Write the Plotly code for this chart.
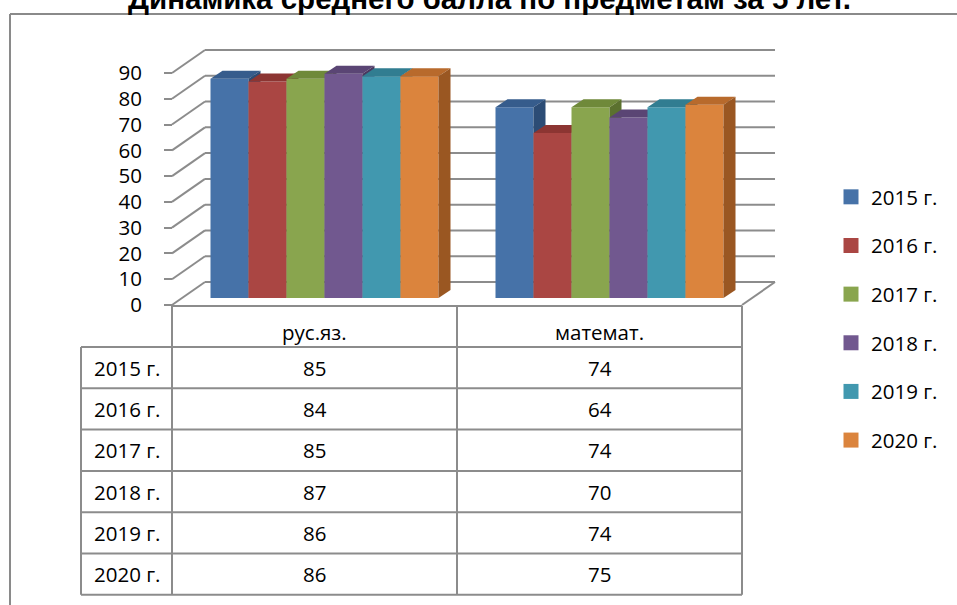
import plotly.graph_objects as go

# ---------------- data ----------------
title_text = "Динамика среднего балла по предметам за 5 лет."
subjects = ["рус.яз.", "математ."]
years = ["2015 г.", "2016 г.", "2017 г.", "2018 г.", "2019 г.", "2020 г."]
rus_scores = [85, 84, 85, 87, 86, 86]
math_scores = [74, 64, 74, 70, 74, 75]
y_ticks = [0, 10, 20, 30, 40, 50, 60, 70, 80, 90]

front_colors = ["#4672A8", "#AA4643", "#89A54E", "#71588F", "#4198AF", "#DB843D"]
top_colors = ["#365C8C", "#8C3532", "#6F893A", "#5A4574", "#317D91", "#B86A2C"]
side_colors = ["#2C4C75", "#742A28", "#5B712F", "#4A385F", "#286778", "#9A5722"]

# ---------------- geometry (layout constants) ----------------
W, H = 957, 605
CAT_PX = 285.0        # pixel width of one category
CAT0_PX = 314.5       # pixel centre of first category (front plane)
UNIT_PX = 2.578       # pixels per value unit
ZERO_PX = 305.0       # pixel row of value 0 (front plane)
BACK = (33, 23)       # depth offset of back wall (px right, px up)
BAR_FRONT = (10, 7)   # depth offset of bar front faces
BAR_DEPTH = (12, 8)   # depth of a bar
GROUP_W = 0.8
GRID_COLOR = "#8C8C8C"
FONT = "Open Sans"
TEXT_SIZE = 20.5


def ddx(px):
    return px / CAT_PX


def ddy(px):
    return px / UNIT_PX


def x_to_px(x):
    return CAT0_PX + x * CAT_PX


def xp(px):
    return px / W


def yp(px):
    return 1 - px / H


values = {subjects[0]: rus_scores, subjects[1]: math_scores}
n_series = len(years)
bw = GROUP_W / n_series

fig = go.Figure()

# ---------------- 3D bars as filled polygons ----------------
for c, subj in enumerate(subjects):
    for j, yr in enumerate(years):
        v = values[subj][j]
        xl = c - GROUP_W / 2 + j * bw + ddx(BAR_FRONT[0])
        xr = xl + bw
        base = ddy(BAR_FRONT[1])
        top = base + v
        ox, oy = ddx(BAR_DEPTH[0]), ddy(BAR_DEPTH[1])
        faces = [
            ([xl, xr, xr, xl, xl], [base, base, top, top, base], front_colors[j]),
            ([xl, xr, xr + ox, xl + ox, xl], [top, top, top + oy, top + oy, top], top_colors[j]),
            ([xr, xr + ox, xr + ox, xr, xr], [base, base + oy, top + oy, top, base], side_colors[j]),
        ]
        for fx, fy, col in faces:
            fig.add_trace(go.Scatter(
                x=fx, y=fy, mode="lines", fill="toself", fillcolor=col,
                line=dict(width=0, color=col), showlegend=False, hoverinfo="skip"))

# legend entries
for j, yr in enumerate(years):
    fig.add_trace(go.Scatter(
        x=[None], y=[None], mode="markers", name=yr, legendgroup=yr,
        marker=dict(symbol="square", size=15, color=front_colors[j])))

shapes = []
bx, by = ddx(BACK[0]), ddy(BACK[1])
x_left, x_right = -0.5, len(subjects) - 0.5
for v in y_ticks:
    shapes.append(dict(type="line", xref="x", yref="y", x0=x_left + bx, x1=x_right + bx,
                       y0=v + by, y1=v + by, line=dict(color=GRID_COLOR, width=2), layer="below"))
    shapes.append(dict(type="line", xref="x", yref="y", x0=x_left, x1=x_left + bx,
                       y0=v, y1=v + by, line=dict(color=GRID_COLOR, width=2), layer="below"))
shapes.append(dict(type="line", xref="x", yref="y", x0=x_right, x1=x_right + bx,
                   y0=0, y1=by, line=dict(color=GRID_COLOR, width=2), layer="below"))

# ---------------- data table ----------------
TABLE_LEFT_PX = 81
HEADER_BOTTOM_PX = 347
ROW_PX = 41.3
TABLE_TOP_PX = ZERO_PX + 1
table_bottom = HEADER_BOTTOM_PX + ROW_PX * len(years)
col_edges = [x_left + k for k in range(len(subjects) + 1)]
for xe in col_edges:
    shapes.append(dict(type="line", xref="paper", yref="paper",
                       x0=xp(x_to_px(xe)), x1=xp(x_to_px(xe)),
                       y0=yp(TABLE_TOP_PX), y1=yp(table_bottom),
                       line=dict(color=GRID_COLOR, width=2)))
shapes.append(dict(type="line", xref="paper", yref="paper",
                   x0=xp(TABLE_LEFT_PX), x1=xp(TABLE_LEFT_PX),
                   y0=yp(HEADER_BOTTOM_PX), y1=yp(table_bottom),
                   line=dict(color=GRID_COLOR, width=2)))
shapes.append(dict(type="line", xref="paper", yref="paper",
                   x0=xp(x_to_px(x_left)), x1=xp(x_to_px(x_right)),
                   y0=yp(TABLE_TOP_PX), y1=yp(TABLE_TOP_PX),
                   line=dict(color=GRID_COLOR, width=2)))
for r in range(len(years) + 1):
    yy = HEADER_BOTTOM_PX + r * ROW_PX
    shapes.append(dict(type="line", xref="paper", yref="paper",
                       x0=xp(TABLE_LEFT_PX), x1=xp(x_to_px(x_right)),
                       y0=yp(yy), y1=yp(yy),
                       line=dict(color=GRID_COLOR, width=2)))

# outer chart border
shapes.append(dict(type="line", xref="paper", yref="paper", x0=xp(10), x1=1.0,
                   y0=yp(14), y1=yp(14), line=dict(color="#8A8A8A", width=2)))
shapes.append(dict(type="line", xref="paper", yref="paper", x0=xp(10), x1=xp(10),
                   y0=yp(14), y1=0, line=dict(color="#8A8A8A", width=2)))

cell_font = dict(family=FONT, size=TEXT_SIZE, color="black")
annotations = []
for c, subj in enumerate(subjects):
    annotations.append(dict(x=c, y=yp(332), xref="x", yref="paper", text=subj,
                            xanchor="center", yanchor="middle",
                            showarrow=False, font=cell_font))
    for r, yr in enumerate(years):
        annotations.append(dict(x=c, y=yp(HEADER_BOTTOM_PX + (r + 0.5) * ROW_PX), xref="x", yref="paper",
                                text=str(values[subj][r]), showarrow=False,
                                xanchor="center", yanchor="middle", font=cell_font))
for r, yr in enumerate(years):
    annotations.append(dict(x=xp((TABLE_LEFT_PX + x_to_px(x_left)) / 2),
                            y=yp(HEADER_BOTTOM_PX + (r + 0.5) * ROW_PX),
                            xref="paper", yref="paper", text=yr, showarrow=False,
                            xanchor="center", yanchor="middle", font=cell_font))

annotations.append(dict(x=xp(490), y=yp(-1.5), xref="paper", yref="paper", text="<b>" + title_text + "</b>",
                        showarrow=False, xanchor="center", yanchor="middle",
                        font=dict(family="Liberation Sans", size=29.5, color="black")))

fig.update_layout(
    width=W, height=H,
    margin=dict(l=0, r=0, t=0, b=0),
    paper_bgcolor="white", plot_bgcolor="white",
    xaxis=dict(range=[-CAT0_PX / CAT_PX, (W - CAT0_PX) / CAT_PX], visible=False, fixedrange=True),
    yaxis=dict(range=[-(H - ZERO_PX) / UNIT_PX, ZERO_PX / UNIT_PX], anchor="free",
               position=xp(x_to_px(x_left)), tickvals=y_ticks, ticks="outside", ticklen=8,
               tickcolor=GRID_COLOR, tickwidth=2, showgrid=False, zeroline=False, showline=False,
               ticklabelstandoff=18, tickfont=dict(family=FONT, size=20.5, color="black"),
               fixedrange=True),
    showlegend=True,
    legend=dict(x=xp(831), y=yp(177), xanchor="left", yanchor="top",
                font=dict(family=FONT, size=TEXT_SIZE, color="black"), tracegroupgap=19,
                bgcolor="rgba(0,0,0,0)"),
    shapes=shapes,
    annotations=annotations,
)

fig.write_html("out.html", config={"displayModeBar": False},
               post_script="document.body.style.margin='0';")
